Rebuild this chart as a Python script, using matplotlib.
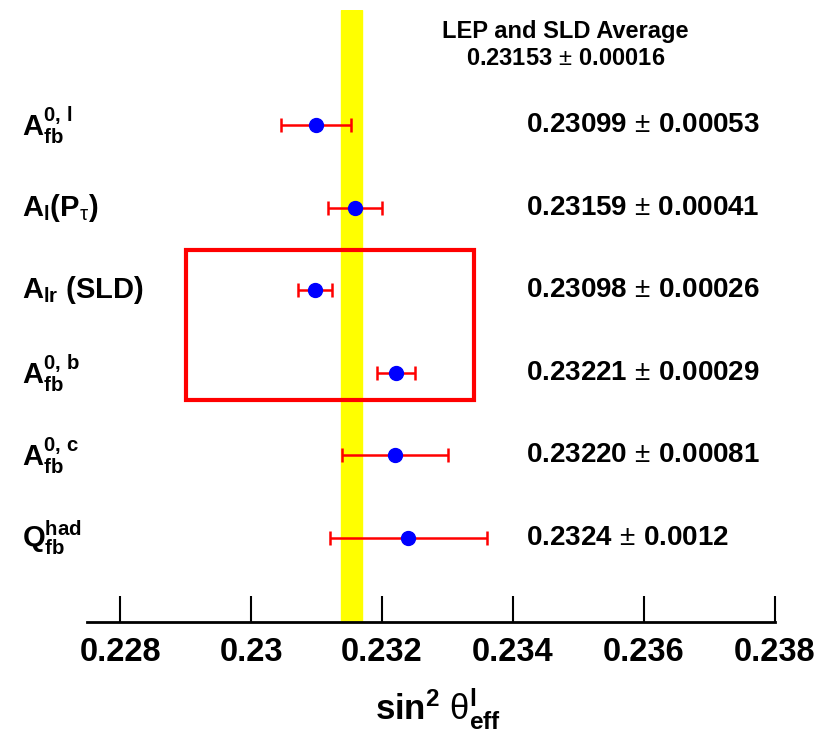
import numpy as np
import matplotlib.pyplot as plt
from matplotlib.patches import Rectangle

plt.rcParams['font.family'] = ['Liberation Sans', 'DejaVu Sans']
plt.rcParams['mathtext.fontset'] = 'custom'
plt.rcParams['mathtext.rm'] = 'Liberation Sans'
plt.rcParams['mathtext.bf'] = 'Liberation Sans:bold'
plt.rcParams['mathtext.it'] = 'Liberation Sans:italic'

# measurements, top to bottom
labels = [r'$\mathbf{A^{0,\,l}_{fb}}$',
          r'$\mathbf{A_l(P_{\mathrm{\tau}})}$',
          r'$\mathbf{A_{lr}}$ (SLD)',
          r'$\mathbf{A^{0,\,b}_{fb}}$',
          r'$\mathbf{A^{0,\,c}_{fb}}$',
          r'$\mathbf{Q^{had}_{fb}}$']
values = [0.23099, 0.23159, 0.23098, 0.23221, 0.23220, 0.2324]
errors = [0.00053, 0.00041, 0.00026, 0.00029, 0.00081, 0.0012]
value_text = ['0.23099', '0.23159', '0.23098', '0.23221', '0.23220', '0.2324']
error_text = ['0.00053', '0.00041', '0.00026', '0.00029', '0.00081', '0.0012']

avg = 0.23153
avg_err = 0.00016

xticks = [0.228, 0.23, 0.232, 0.234, 0.236, 0.238]
xtick_labels = ['0.228', '0.23', '0.232', '0.234', '0.236', '0.238']

rows = np.arange(len(values), 0, -1)

fig = plt.figure(figsize=(8.27, 7.42), dpi=100)
ax = fig.add_axes([0.1058, 0.1617, 0.831, 0.8248])

ax.axvspan(avg - avg_err, avg + avg_err, color='yellow', zorder=1)

ax.errorbar(values, rows, xerr=errors, fmt='o', color='blue', ms=10,
            ecolor='red', elinewidth=1.8, capsize=5, capthick=1.8, zorder=3)

# highlight box around A_lr and A_fb^b
ax.add_patch(Rectangle((0.229, rows[3] - 0.33), 0.0044, 1.82, fill=False,
                       edgecolor='red', lw=3, zorder=4, clip_on=False))

ax.set_xlim(0.2275, 0.238)
ax.set_ylim(-0.017, 7.392)
ax.set_xticks(xticks)
ax.set_xticklabels(xtick_labels, fontsize=23.5, fontweight='bold')
ax.tick_params(axis='x', direction='in', length=19, width=1.5, pad=11)
ax.set_yticks([])
for s in ['left', 'top', 'right']:
    ax.spines[s].set_visible(False)
ax.spines['bottom'].set_linewidth(2)
ax.spines['bottom'].set_zorder(5)

pm = r'$\,\pm\,$'
for r, lab, v, e in zip(rows, labels, value_text, error_text):
    ax.text(-0.0953, r, lab, transform=ax.get_yaxis_transform(),
            fontsize=21, fontweight='bold', va='center', ha='left')
    ax.text(0.2342, r, v + pm + e, fontsize=20, fontweight='bold',
            va='center', ha='left')

fig.text(0.684, 0.957, 'LEP and SLD Average', fontsize=17, fontweight='bold',
         ha='center', va='center')
fig.text(0.684, 0.921, '%.5f' % avg + pm + '%.5f' % avg_err, fontsize=17,
         fontweight='bold', ha='center', va='center')

fig.text(0.53, 0.045, r'$\mathbf{sin^2}\ \mathrm{\theta}^{\mathbf{l}}_{\mathbf{eff}}$',
         fontsize=25, ha='center', va='center')

fig.savefig('out.png', dpi=100, facecolor='white')
